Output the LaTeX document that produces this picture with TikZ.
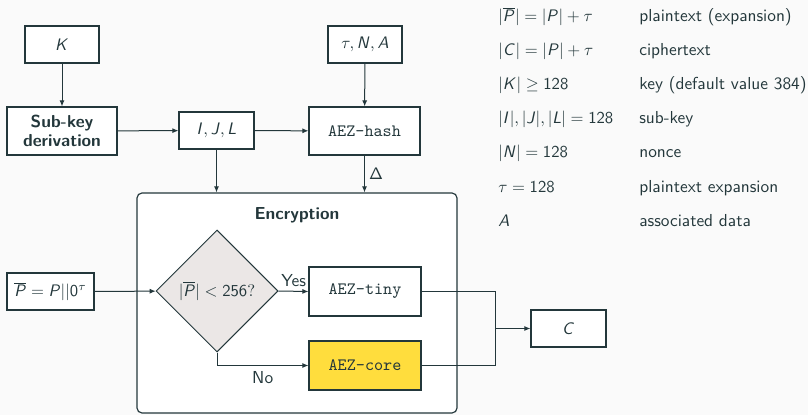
\documentclass[tikz,border=0pt]{standalone}
\usepackage{amsmath}
\usetikzlibrary{arrows.meta,shapes.geometric,positioning}
\DeclareMathAlphabet{\mathsi}{OT1}{cmss}{m}{sl}
\definecolor{bgc}{HTML}{FAFAFA}
\definecolor{ink}{HTML}{23373B}
\definecolor{diafill}{HTML}{EBE7E6}
\definecolor{yel}{HTML}{FFDD3D}
\begin{document}
\begin{tikzpicture}[x=0.6pt,y=-0.6pt,
  font=\fontsize{10.4}{12.5}\selectfont\sffamily,
  every node/.style={text=ink},
  box/.style={draw=ink, line width=0.7pt, fill=white, rectangle, inner sep=0pt},
  conn/.style={draw=ink, line width=0.6pt},
  arr/.style={conn, -{Latex[length=3.6pt,width=3pt]}},
  lg/.style={anchor=base west, inner sep=0pt}
]
\fill[bgc] (0,0) rectangle (808,415);
\useasboundingbox (0,0) rectangle (808,415);

% enclosure
\node (enc) [draw=ink, line width=0.7pt, fill=white, rounded corners=3pt, inner sep=0pt,
  minimum width=192pt, minimum height=132pt] at (297,303) {};
\node (enctitle) [font=\fontsize{10.4}{12.5}\selectfont\sffamily\bfseries] at (297,215) {Encryption};

% top boxes
\node (K) [box, minimum width=44.4pt, minimum height=22.2pt] at (62,44.5) {$\mathsi{K}$};
\node (sub) [box, minimum width=66pt, minimum height=28.8pt, align=center,
  font=\fontsize{10.4}{11.5}\selectfont\sffamily\bfseries] at (62,131) {Sub-key\\derivation};
\node (ijl) [box, minimum width=45pt, minimum height=22.2pt] at (216.5,130.5) {$\mathsi{I}, \mathsi{J}, \mathsi{L}$};
\node (tna) [box, minimum width=44.4pt, minimum height=22.2pt] at (365,44.5) {$\tau, \mathsi{N}, \mathsi{A}$};
\node (hash) [box, minimum width=66.6pt, minimum height=28.8pt] at (364.5,131) {\texttt{AEZ-hash}};

% lower
\node (pbar) [box, minimum width=52.2pt, minimum height=22.2pt] at (50.5,291.5) {$\overline{\mathsi{P}} = \mathsi{P}||\mathsf{0}^{\tau}$};
\node (dia) [diamond, draw=ink, line width=0.6pt, fill=diafill, inner sep=0pt, aspect=1,
  minimum width=73.2pt, minimum height=73.2pt] at (217,291) {$|\overline{\mathsi{P}}| < \mathsf{256?}$};
\node (tiny) [box, minimum width=67.2pt, minimum height=29.4pt] at (365,291.5) {\texttt{AEZ-tiny}};
\node (core) [box, fill=yel, minimum width=67.2pt, minimum height=29.4pt] at (365,365.5) {\texttt{AEZ-core}};
\node (C) [box, minimum width=45pt, minimum height=22.2pt] at (568.5,328.5) {$\mathsi{C}$};

\coordinate (merge) at (495,328.5);
\coordinate (bend) at (217,365.5);

% connectors
\draw[arr] (K) -- (sub);
\draw[arr] (sub) -- (ijl);
\draw[arr] (ijl) -- (hash);
\draw[arr] (tna) -- (hash);
\draw[arr] (ijl.south) -- (ijl.south |- enc.north);
\draw[arr] (hash.south) -- node[right, inner sep=2.5pt] {$\mathsf{\Delta}$} (hash.south |- enc.north);
\draw[arr] (pbar) -- (dia);
\draw[arr] (dia.east) -- node[pos=1, above left, inner sep=1.2pt, yshift=1.5pt] {Yes} (tiny.west);
\draw[arr] (dia.south) -- (bend) -- node[midway, below, inner sep=3pt] {No} (core.west);
\draw[conn] (tiny.east) -- (tiny.east -| merge) -- (core.east -| merge) -- (core.east);
\draw[arr] (merge) -- (C);

% legend
\node (l1a) [lg] at (498,22) {$|\overline{\mathsi{P}}| = |\mathsi{P}| + \tau$};
\node (l1b) [lg] at (639,22) {plaintext (expansion)};
\node (l2a) [lg] at (498,56) {$|\mathsi{C}| = |\mathsi{P}| + \tau$};
\node (l2b) [lg] at (639,56) {ciphertext};
\node (l3a) [lg] at (498,90) {$|\mathsi{K}| \geq \mathsf{128}$};
\node (l3b) [lg] at (639,90) {key (default value 384)};
\node (l4a) [lg] at (498,124) {$|\mathsi{I}|, |\mathsi{J}|, |\mathsi{L}| = \mathsf{128}$};
\node (l4b) [lg] at (639,124) {sub-key};
\node (l5a) [lg] at (498,158) {$|\mathsi{N}| = \mathsf{128}$};
\node (l5b) [lg] at (639,158) {nonce};
\node (l6a) [lg] at (498,192) {$\tau = \mathsf{128}$};
\node (l6b) [lg] at (639,192) {plaintext expansion};
\node (l7a) [lg] at (498,226) {$\mathsi{A}$};
\node (l7b) [lg] at (639,226) {associated data};
\end{tikzpicture}
\end{document}
